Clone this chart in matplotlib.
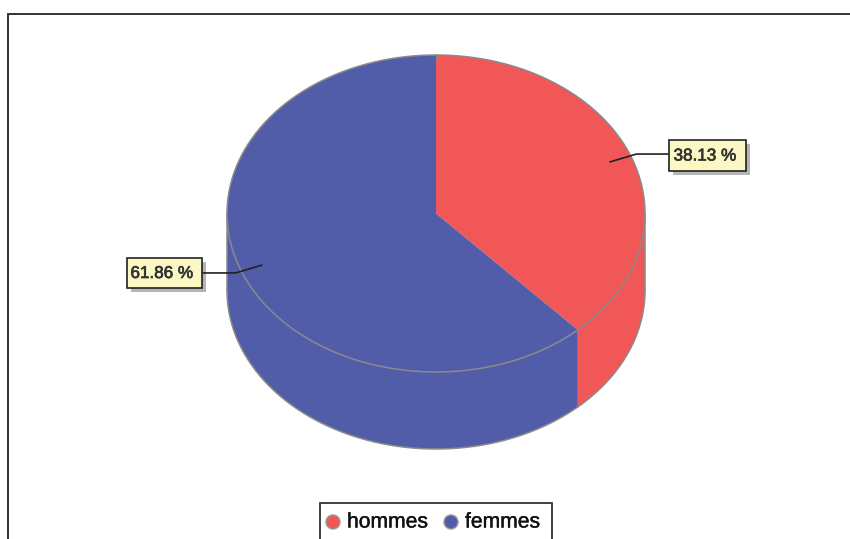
import numpy as np
import matplotlib
matplotlib.use('Agg')
import matplotlib.pyplot as plt
import matplotlib.patheffects as pe
from matplotlib.patches import Polygon, Rectangle, Circle

plt.rcParams['font.family'] = ['Liberation Sans', 'DejaVu Sans']

# data
categories = ['hommes', 'femmes']
values = [38.13, 61.86]
value_labels = ['38.13 %', '61.86 %']
colors = ['#F15757', '#525DA9']
edge_gray = '#8A8A8A'

# pie geometry in pixels
cx, cy = 436, 213.5
rx, ry = 209, 158.5
depth = 77

fig = plt.figure(figsize=(8.5, 5.39), dpi=100)
ax = fig.add_axes([0, 0, 1, 1])
ax.set_xlim(0, 850)
ax.set_ylim(539, 0)
ax.axis('off')


def arc(t0, t1, dy=0, n=200):
    # angles in degrees, clockwise from the top
    t = np.radians(np.linspace(t0, t1, n))
    return np.column_stack([cx + rx * np.sin(t), cy + dy - ry * np.cos(t)])


def point(t, r=1.0):
    a = np.radians(t)
    return cx + r * rx * np.sin(a), cy - r * ry * np.cos(a)


# outer frame, runs off the picture on the right and bottom
ax.plot([8, 8, 850], [539, 13.5, 13.5], color='#333333', lw=1.4, zorder=1,
        solid_joinstyle='miter')

total = sum(values)
angles = np.cumsum([0] + values) / total * 360

# sides of the cylinder, only the front half shows
side_ranges = [(90, angles[1]), (angles[1], 270)]
for (t0, t1), col in zip(side_ranges, colors):
    pts = np.vstack([arc(t0, t1), arc(t0, t1, depth)[::-1]])
    ax.add_patch(Polygon(pts, closed=True, facecolor=col, edgecolor='none', zorder=2))
    ax.plot(*arc(t0, t1, depth).T, color=edge_gray, lw=1.1, zorder=3)
for t in (90, 270):
    x, y = point(t)
    ax.plot([x, x], [y, y + depth], color=edge_gray, lw=1.1, zorder=3)

# top face
for i, col in enumerate(colors):
    pts = np.vstack([[cx, cy], arc(angles[i], angles[i + 1])])
    ax.add_patch(Polygon(pts, closed=True, facecolor=col, edgecolor='none', zorder=4))
    ax.plot(*arc(angles[i], angles[i + 1]).T, color=edge_gray, lw=1.1, zorder=5)
ax.plot([cx, cx], [cy - ry, cy - ry + 3], color=edge_gray, lw=0.8, zorder=5)

# labels with leader lines
boxes = [(669, 140, 77, 31), (127, 258, 75, 30)]
heavy = [pe.withStroke(linewidth=0.5, foreground='#333333')]
for i, (box, txt) in enumerate(zip(boxes, value_labels)):
    mid = (angles[i] + angles[i + 1]) / 2
    x0, y0 = point(mid, 0.895)
    x1, y1 = point(mid, 1.03)
    bx, by, bw, bh = box
    x2 = bx if x1 < bx else bx + bw
    ax.add_patch(Rectangle((bx + 4, by + 4), bw, bh, facecolor='#B4B4B4', edgecolor='none', zorder=6))
    ax.plot([x0, x1, x2], [y0, y1, y1], color='#222222', lw=1.2, zorder=6.5)
    ax.add_patch(Rectangle((bx, by), bw, bh, facecolor='#FBF8C4', edgecolor='#222222', lw=1.2, zorder=7))
    ax.text(bx + bw / 2 - 2.5, by + bh / 2 + 0.5, txt, ha='center', va='center', fontsize=12.3,
            color='#333333', zorder=8, path_effects=heavy)

# legend, cut off by the bottom edge
ax.add_patch(Rectangle((320, 503), 232, 60, facecolor='white', edgecolor='#333333', lw=1.3, zorder=6))
for name, col, mx, tx in zip(categories, colors, [333, 451], [347, 465]):
    ax.add_patch(Circle((mx, 522), 7, facecolor=col, edgecolor='#999999', lw=1, zorder=7))
    ax.text(tx, 522, name, ha='left', va='center', fontsize=15.2, color='#111111', zorder=7,
            path_effects=[pe.withStroke(linewidth=0.3, foreground='#111111')])

fig.savefig('out.png', dpi=100)
